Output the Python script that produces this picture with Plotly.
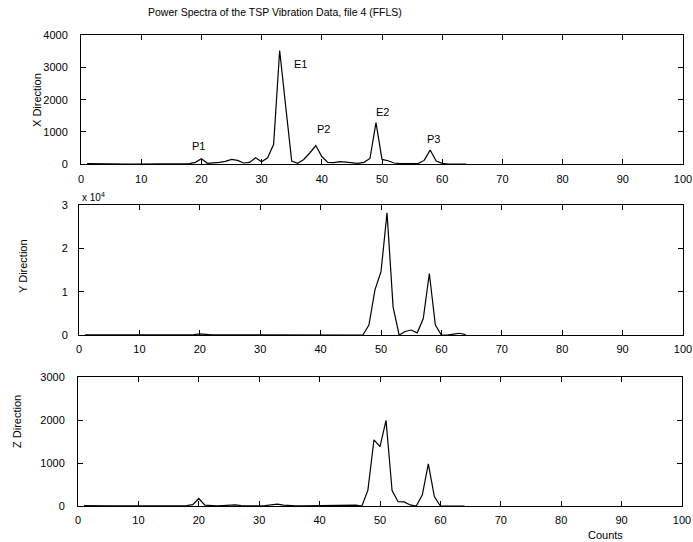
import plotly.graph_objects as go

# ---------------- data ----------------
counts = list(range(1, 65))

x_direction = [20, 15, 10, 10, 5, 5, 5, 5, 5, 5,
               5, 5, 5, 5, 5, 5, 10, 20, 60, 170,
               30, 40, 60, 90, 150, 120, 40, 60, 200, 80,
               200, 620, 3520, 1800, 100, 30, 150, 350, 580, 240,
               60, 50, 80, 70, 40, 30, 60, 180, 1290, 150,
               110, 40, 20, 15, 15, 20, 120, 440, 100, 30,
               10, 10, 10, 5]

y_direction = [50, 30, 20, 20, 10, 10, 10, 10, 10, 10,
               10, 10, 10, 10, 10, 10, 20, 50, 100, 250,
               60, 30, 30, 30, 40, 40, 30, 20, 30, 30,
               30, 40, 60, 40, 20, 20, 20, 20, 30, 30,
               30, 40, 60, 80, 100, 60, 0, 2300, 10400, 14600,
               28200, 6500, 0, 800, 1150, 500, 3800, 14200, 2300, 0,
               0, 200, 400, 100]

z_direction = [10, 5, 5, 5, 5, 5, 5, 5, 5, 5,
               5, 5, 5, 5, 5, 5, 5, 10, 30, 175,
               20, 5, 5, 10, 25, 25, 10, 5, 5, 5,
               10, 20, 45, 20, 5, 5, 5, 5, 5, 10,
               15, 20, 20, 20, 20, 20, 0, 370, 1540, 1380,
               1990, 360, 100, 95, 25, 0, 255, 980, 220, 0,
               0, 0, 0, 0]

x_ticks = [0, 10, 20, 30, 40, 50, 60, 70, 80, 90, 100]
x_tick_text = ["0", "10", "20", "30", "40", "50", "60", "70", "80", "90", "100"]
top_y_ticks = [0, 1000, 2000, 3000, 4000]
mid_y_ticks = [0, 10000, 20000, 30000]
mid_y_tick_text = ["0", "1", "2", "3"]
bot_y_ticks = [0, 1000, 2000, 3000]

peak_labels = ["P1", "E1", "P2", "E2", "P3"]
peak_label_x = [19.6, 36.4, 40.2, 50.0, 58.6]
peak_label_y = [560, 3100, 1090, 1620, 780]

title_text = "Power Spectra of the TSP Vibration Data, file 4 (FFLS)"

# ---------------- layout helpers ----------------
W, H = 693, 542
FONT = "Liberation Sans, Arial, Helvetica, sans-serif"


def px_x(p):
    return p / W


def px_y(p):
    return 1 - p / H


fig = go.Figure()
line_style = dict(color="black", width=1.2)
fig.add_trace(go.Scatter(x=counts, y=x_direction, mode="lines", line=line_style,
                         xaxis="x", yaxis="y", showlegend=False))
fig.add_trace(go.Scatter(x=counts, y=y_direction, mode="lines", line=line_style,
                         xaxis="x2", yaxis="y2", showlegend=False))
fig.add_trace(go.Scatter(x=counts, y=z_direction, mode="lines", line=line_style,
                         xaxis="x3", yaxis="y3", showlegend=False))

axis_common = dict(showline=True, linecolor="black", linewidth=1, mirror="ticks",
                   ticks="inside", ticklen=5, tickcolor="black", tickwidth=1,
                   showgrid=False, zeroline=False, automargin=False,
                   tickfont=dict(family=FONT, size=11, color="black"))

xaxis_common = dict(axis_common, range=[0, 100], tickmode="array",
                    tickvals=x_ticks, ticktext=x_tick_text, ticklabelstandoff=4)

fig.update_layout(
    width=W, height=H,
    margin=dict(l=0, r=0, t=0, b=0, autoexpand=False),
    paper_bgcolor="white", plot_bgcolor="white",
    font=dict(family=FONT, size=11, color="black"),
    xaxis=dict(xaxis_common, domain=[px_x(81), px_x(683)], anchor="y"),
    yaxis=dict(axis_common, domain=[px_y(164.3), px_y(35)], anchor="x",
               range=[0, 4000], tickmode="array", tickvals=top_y_ticks,
               ticklabelstandoff=10),
    xaxis2=dict(xaxis_common, domain=[px_x(79), px_x(683)], anchor="y2"),
    yaxis2=dict(axis_common, domain=[px_y(335), px_y(205)], anchor="x2",
                range=[0, 30000], tickmode="array", tickvals=mid_y_ticks,
                ticktext=mid_y_tick_text, ticklabelstandoff=8),
    xaxis3=dict(xaxis_common, domain=[px_x(78), px_x(682)], anchor="y3"),
    yaxis3=dict(axis_common, domain=[px_y(506), px_y(377)], anchor="x3",
                range=[0, 3000], tickmode="array", tickvals=bot_y_ticks,
                ticklabelstandoff=10),
)

annotations = []
for name, lx, ly in zip(peak_labels, peak_label_x, peak_label_y):
    annotations.append(dict(text=name, x=lx, y=ly, xref="x", yref="y",
                            xanchor="center", yanchor="middle",
                            showarrow=False, font=dict(family=FONT, size=11, color="black")))


def paper_text(text, x, y, size=11, angle=0, xanchor="center"):
    return dict(text=text, x=px_x(x), y=px_y(y), xref="paper", yref="paper",
                xanchor=xanchor, yanchor="middle", textangle=angle,
                showarrow=False, font=dict(family=FONT, size=size, color="black"))


annotations += [
    paper_text(title_text, 275, 12, size=10.5),
    paper_text("X Direction", 37, 100, angle=-90),
    paper_text("Y Direction", 23, 266, angle=-90),
    paper_text("Z Direction", 17, 422, angle=-90),
    paper_text("x 10<sup>4</sup>", 80, 197, size=10, xanchor="left"),
    paper_text("Counts", 605, 535),
]
fig.update_layout(annotations=annotations)

fig.write_html("out.html", config={"displayModeBar": False},
               post_script="document.body.style.margin='0';")
